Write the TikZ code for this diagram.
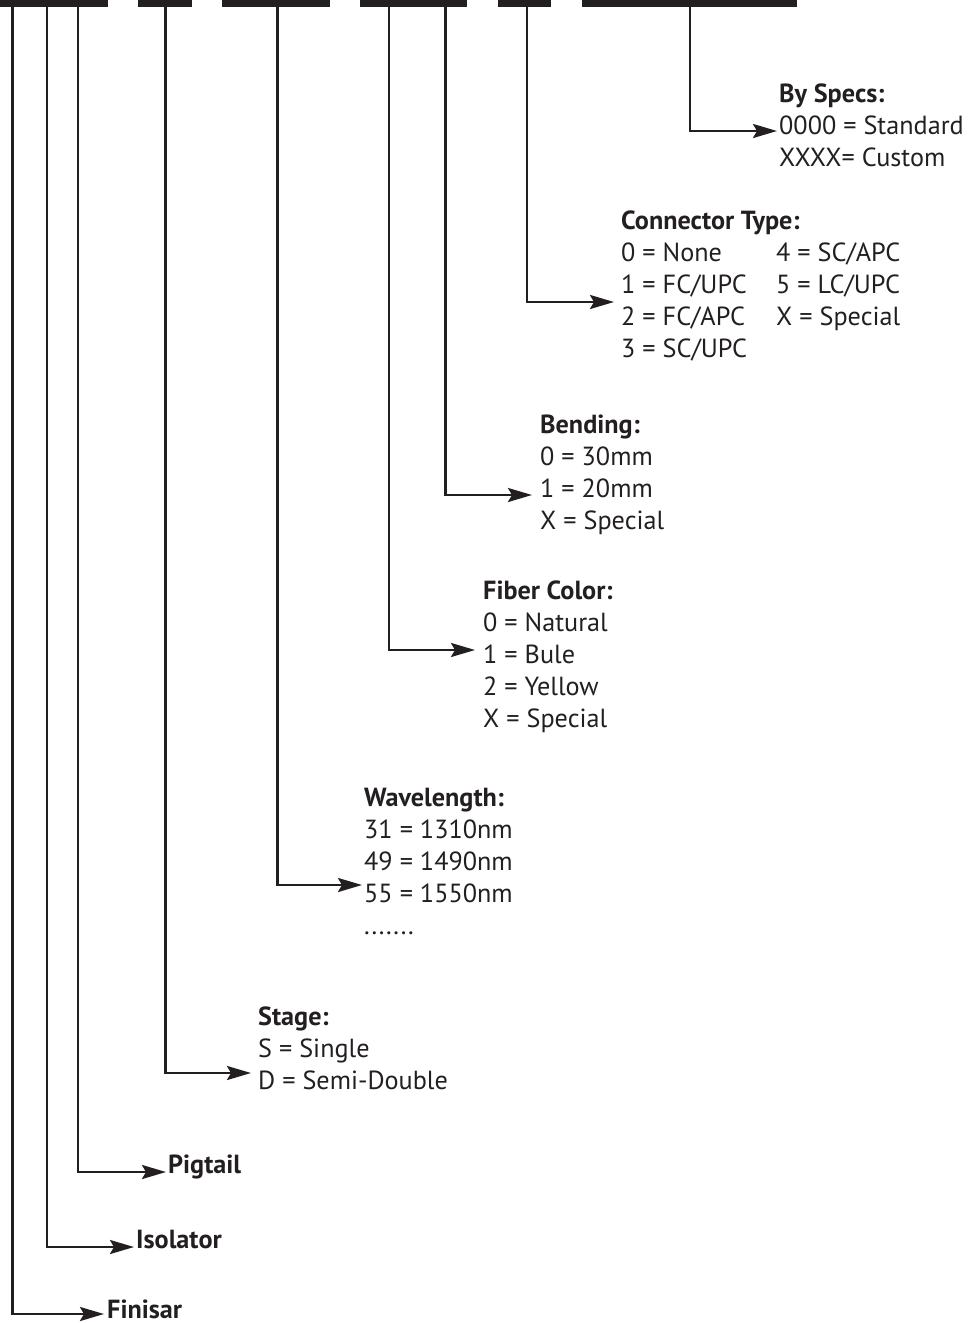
\documentclass[tikz,border=0pt]{standalone}
\usepackage{fontspec}
\setmainfont{PT Sans}
\usetikzlibrary{arrows.meta}
\definecolor{ink}{HTML}{231F20}
\begin{document}
\begin{tikzpicture}[x=1pt,y=-1pt,
  barfill/.style={fill=ink},
  lead/.style={draw=ink,line width=2.6pt,line join=miter,
    -{Stealth[length=24pt,width=14pt,inset=4pt]}},
  lbl/.style={anchor=base west,inner sep=0pt,text=ink,
    font=\fontsize{26.2}{32}\selectfont},
  ttl/.style={lbl,font=\fontsize{26.2}{32}\selectfont\bfseries}]
\useasboundingbox (0,0) rectangle (969,1323);
% top bars
\fill[barfill] (0,0) rectangle (108,7);
\fill[barfill] (138,0) rectangle (192,7);
\fill[barfill] (222,0) rectangle (330,7);
\fill[barfill] (360,0) rectangle (467,7);
\fill[barfill] (498,0) rectangle (551,7);
\fill[barfill] (582,0) rectangle (797,7);
% start points on bars
\coordinate (sI) at (12.5,5);
\coordinate (sH) at (47,5);
\coordinate (sG) at (78,5);
\coordinate (sF) at (165.5,5);
\coordinate (sE) at (277.5,5);
\coordinate (sD) at (389,5);
\coordinate (sC) at (445.5,5);
\coordinate (sB) at (527,5);
\coordinate (sA) at (690,5);
% arrow tips
\coordinate (tA) at (777,131);
\coordinate (tB) at (614,302);
\coordinate (tC) at (532,495);
\coordinate (tD) at (475,650);
\coordinate (tE) at (362,885);
\coordinate (tF) at (251,1073);
\coordinate (tG) at (166,1172);
\coordinate (tH) at (134,1247);
\coordinate (tI) at (104,1314);
% texts
\node[ttl] (specsT) at (779,102) {By Specs:};
\node[lbl] (specs1) at (779,134) {0000 = Standard};
\node[lbl] (specs2) at (779,166) {XXXX= Custom};
\node[ttl] (connT) at (621,229) {Connector Type:};
\node[lbl] (conn1) at (621,261) {0 = None};
\node[lbl] (conn2) at (621,293) {1 = FC/UPC};
\node[lbl] (conn3) at (621,325) {2 = FC/APC};
\node[lbl] (conn4) at (621,357) {3 = SC/UPC};
\node[lbl] (conn5) at (776,261) {4 = SC/APC};
\node[lbl] (conn6) at (776,293) {5 = LC/UPC};
\node[lbl] (conn7) at (776,325) {X = Special};
\node[ttl] (bendT) at (540,433) {Bending:};
\node[lbl] (bend1) at (540,465) {0 = 30mm};
\node[lbl] (bend2) at (540,497) {1 = 20mm};
\node[lbl] (bend3) at (540,529) {X = Special};
\node[ttl] (fiberT) at (483,599) {Fiber Color:};
\node[lbl] (fiber1) at (483,631) {0 = Natural};
\node[lbl] (fiber2) at (483,663) {1 = Bule};
\node[lbl] (fiber3) at (483,695) {2 = Yellow};
\node[lbl] (fiber4) at (483,727) {X = Special};
\node[ttl] (waveT) at (364,806) {Wavelength:};
\node[lbl] (wave1) at (364,838) {31 = 1310nm};
\node[lbl] (wave2) at (364,870) {49 = 1490nm};
\node[lbl] (wave3) at (364,902) {55 = 1550nm};
\node[lbl] (wave4) at (364,934) {.......};
\node[ttl] (stageT) at (258,1025) {Stage:};
\node[lbl] (stage1) at (258,1057) {S = Single};
\node[lbl] (stage2) at (258,1089) {D = Semi-Double};
\node[ttl] (pig) at (168,1173) {Pigtail};
\node[ttl] (iso) at (136,1248) {Isolator};
\node[ttl] (fin) at (107,1318) {Finisar};
% connectors
\draw[lead] (sA) |- (tA);
\draw[lead] (sB) |- (tB);
\draw[lead] (sC) |- (tC);
\draw[lead] (sD) |- (tD);
\draw[lead] (sE) |- (tE);
\draw[lead] (sF) |- (tF);
\draw[lead] (sG) |- (tG);
\draw[lead] (sH) |- (tH);
\draw[lead] (sI) |- (tI);
\end{tikzpicture}
\end{document}
